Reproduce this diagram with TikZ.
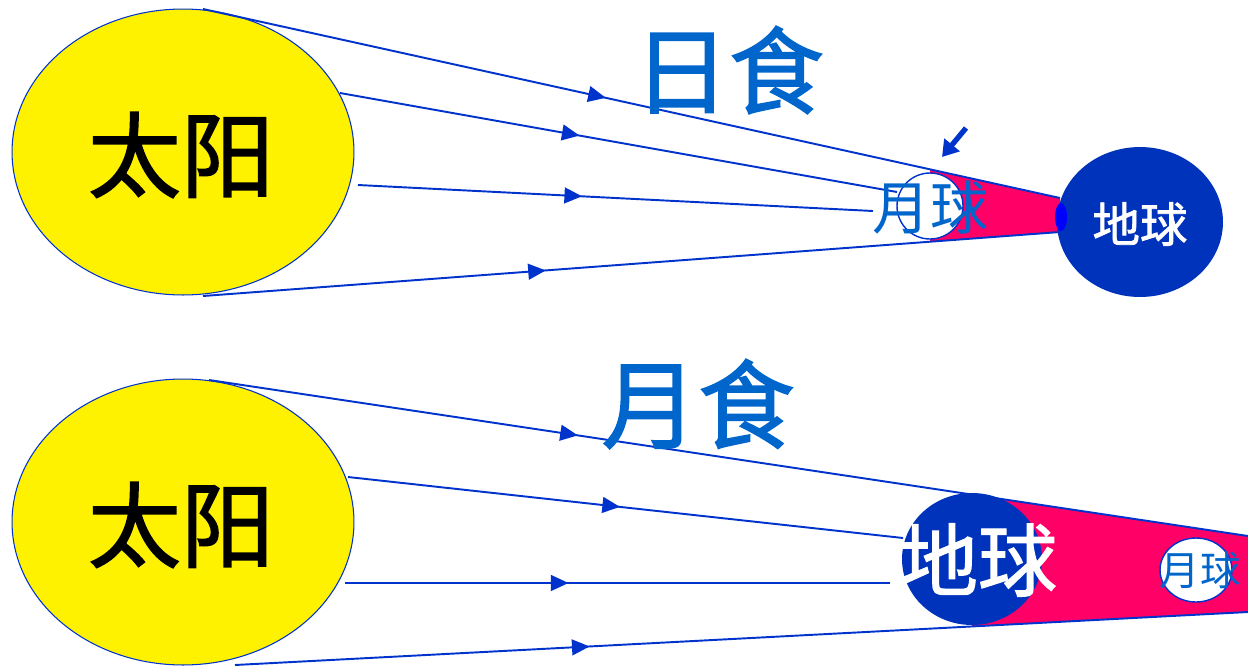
\documentclass[tikz,border=0pt]{standalone}
\usepackage{fontspec}
\newfontfamily\cjk{Noto Sans CJK SC}
\newfontfamily\cjkheavy{Noto Sans CJK SC}[FakeBold=1.6]
\usetikzlibrary{arrows.meta}
\usetikzlibrary{shapes.geometric}
\usetikzlibrary{decorations.markings}

\definecolor{rayblue}{RGB}{0,51,204}
\definecolor{earthblue}{RGB}{0,51,187}
\definecolor{titleblue}{RGB}{0,102,204}
\definecolor{umbra}{RGB}{255,0,102}

\tikzset{
  sun/.style={ellipse,draw=rayblue,line width=0.6pt,fill=yellow,minimum width=6.84cm,minimum height=5.72cm,inner sep=0pt},
  earth/.style={ellipse,fill=earthblue,inner sep=0pt},
  moon/.style={ellipse,draw=rayblue,line width=0.8pt,fill=white,inner sep=0pt},
  ray/.style={draw=rayblue,line width=1.1pt,postaction={decorate},
    decoration={markings,mark=at position #1 with {\arrow{Triangle[length=10pt,width=9pt]}}}},
  word/.style={inner sep=0pt,font=\cjk\fontsize{#1}{#1}\selectfont},
  heavyword/.style={inner sep=0pt,font=\cjkheavy\fontsize{#1}{#1}\selectfont},
}

\begin{document}
\begin{tikzpicture}[x=0.02cm,y=-0.02cm]
\useasboundingbox (0,0) rectangle (1248,667);

% solar eclipse
\node[sun] (sunA) at (183,152) {};
\coordinate (a1s) at (203,9);    \coordinate (a1e) at (1060,198);
\coordinate (a2s) at (340,93);   \coordinate (a2e) at (897,192);
\coordinate (a3s) at (358,185);  \coordinate (a3e) at (873,211);
\coordinate (a4s) at (203,296);  \coordinate (a4e) at (1060,232);
\fill[umbra] (930,170) -- (a1e) -- (a4e) -- (930,242) -- cycle;
\node[moon,minimum width=1.32cm,minimum height=1.32cm] (moonA) at (930,206) {};
\draw[ray=0.47] (a1s) -- (a1e);
\draw[ray=0.43] (a2s) -- (a2e);
\draw[ray=0.435] (a3s) -- (a3e);
\draw[ray=0.40] (a4s) -- (a4e);
\node[earth,minimum width=3.32cm,minimum height=3cm] (earthA) at (1140,222) {};
\node[ellipse,fill=blue,inner sep=0pt,minimum width=0.24cm,minimum height=0.56cm] (spotA) at (1061,217) {};
\node[heavyword=27,text=white] (earthAtext) at (1140,224) {地球};
\node[word=33,text=titleblue] (moonAtext) at (930,208) {月球};
\node[heavyword=53] (sunAtext) at (181,155) {太阳};
\node[heavyword=54,text=titleblue] (titleA) at (729,70) {日食};
\coordinate (hintS) at (966,128);
\coordinate (hintE) at (942,157);
\draw[rayblue,line width=3pt,-{Triangle[length=9pt,width=11pt]}] (hintS) -- (hintE);

% lunar eclipse
\node[sun] (sunB) at (183,522) {};
\coordinate (b1s) at (209,380);  \coordinate (b1e) at (1248,536);
\coordinate (b2s) at (348,477);  \coordinate (b2e) at (903,538);
\coordinate (b3s) at (345,583);  \coordinate (b3e) at (890,583);
\coordinate (b4s) at (235,665);  \coordinate (b4e) at (1248,612);
\fill[umbra] (972,495) -- (b1e) -- (b4e) -- (972,626) -- cycle;
\draw[ray=0.355] (b1s) -- (b1e);
\draw[ray=0.49] (b2s) -- (b2e);
\draw[ray=0.41] (b3s) -- (b3e);
\draw[ray=0.35] (b4s) -- (b4e);
\node[earth,minimum width=2.8cm,minimum height=2.64cm] (earthB) at (972,559) {};
\node[moon,minimum width=1.44cm,minimum height=1.28cm] (moonB) at (1196,570) {};
\node[heavyword=45,text=white] (earthBtext) at (978,560) {地球};
\node[word=23,text=titleblue] (moonBtext) at (1200,570) {月球};
\node[heavyword=53] (sunBtext) at (181,525) {太阳};
\node[heavyword=55,text=titleblue] (titleB) at (698,404) {月食};
\end{tikzpicture}
\end{document}
